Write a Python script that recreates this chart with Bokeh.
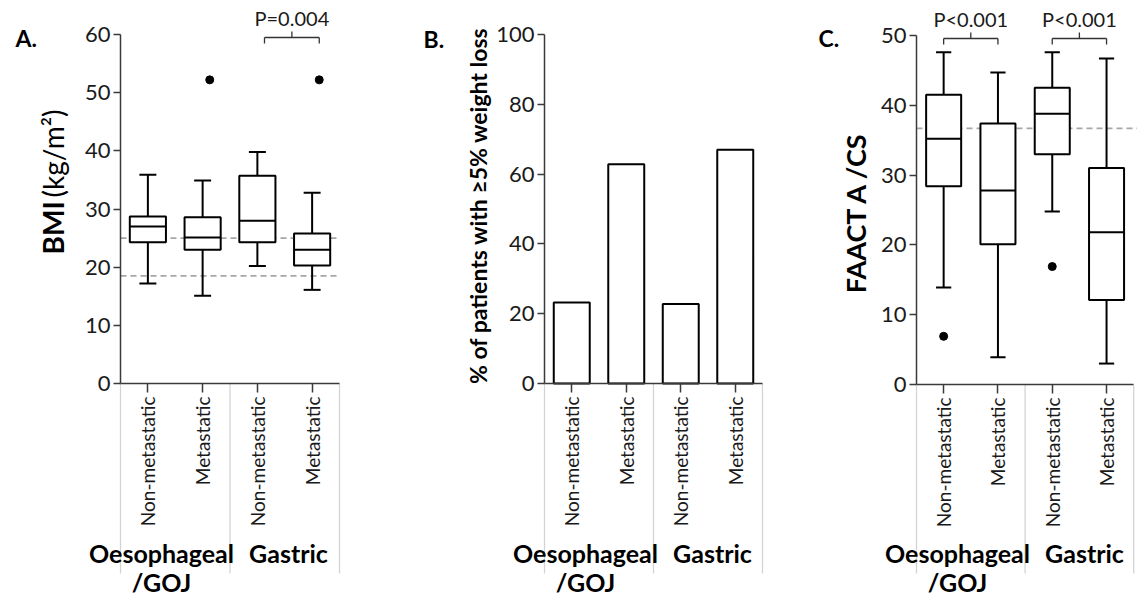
import math
from bokeh.plotting import figure
from bokeh.layouts import row
from bokeh.models import Range1d, LinearAxis, FixedTicker, CustomJSTickFormatter
from bokeh.core.properties import value
from bokeh.embed import file_html
from bokeh.resources import INLINE

# ---------------- data ----------------
categories = ["Non-metastatic", "Metastatic", "Non-metastatic", "Metastatic"]
group_names = ["Oesophageal", "Gastric"]
group_sub = "/GOJ"
positions = [1, 2, 3, 4]

# Panel A: BMI (kg/m2) box plots
bmi_low = [17.2, 15.1, 20.2, 16.1]
bmi_q1 = [24.3, 23.0, 24.3, 20.3]
bmi_med = [27.0, 25.1, 28.0, 23.0]
bmi_q3 = [28.7, 28.6, 35.7, 25.8]
bmi_high = [35.9, 34.9, 39.8, 32.8]
bmi_out_cat = [2, 4]
bmi_out_val = [52.2, 52.2]
bmi_ref = [25.0, 18.5]
bmi_ticks = [0, 10, 20, 30, 40, 50, 60]

# Panel B: % patients with >=5% weight loss
wl_pct = [23.2, 62.8, 22.8, 67.0]
wl_ticks = [0, 20, 40, 60, 80, 100]

# Panel C: FAACT A/CS box plots
fa_low = [13.9, 3.9, 24.8, 3.0]
fa_q1 = [28.4, 20.1, 33.0, 12.1]
fa_med = [35.2, 27.8, 38.8, 21.8]
fa_q3 = [41.5, 37.4, 42.5, 31.0]
fa_high = [47.6, 44.7, 47.6, 46.7]
fa_out_cat = [1, 3]
fa_out_val = [6.9, 16.9]
fa_ref = [36.7]
fa_ticks = [0, 10, 20, 30, 40, 50]

# significance brackets
bmi_sig_pairs = [(3, 4)]
bmi_sig_text = ["P=0.004"]
fa_sig_pairs = [(1, 2), (3, 4)]
fa_sig_text = ["P<0.001", "P<0.001"]

# ---------------- styling ----------------
FONT = "Lato"
H = 598
AXIS_COL = "#3a3a3a"
TICK_FS = 22
CAT_FS = 19
GROUP_FS = 25
P_FS = 20
BASE_K = 0.4   # empirical baseline correction (fraction of font size)


def make_panel(left, width, axis_px, unit_px, y0_px, ytop_px, ymax, ticks):
    sx = unit_px
    sy = (y0_px - ytop_px) / ymax
    ax0 = axis_px - left
    x_start = 0.5 - ax0 / sx
    x_end = 0.5 + (width - ax0) / sx
    y_end = y0_px / sy
    y_start = -(H - y0_px) / sy
    p = figure(width=width, height=H, x_range=Range1d(x_start, x_end),
               y_range=Range1d(y_start, y_end), min_border=0,
               toolbar_location=None, output_backend="svg",
               x_axis_type=None, y_axis_type=None, title=None)
    p.outline_line_color = None
    p.background_fill_color = "white"
    p.border_fill_color = "white"

    def fx(gx):
        return 0.5 + (gx - axis_px) / sx

    def fy(gy):
        return (y0_px - gy) / sy

    def htext(gx, gy, txt, fs, bold=False, align="center", color="black"):
        p.text(x=[fx(gx)], y=[fy(gy - BASE_K * fs)], text=[txt],
               text_font=value(FONT), text_font_size=value(f"{fs}px"),
               text_font_style="bold" if bold else "normal", text_align=align,
               text_baseline="alphabetic", text_color=color)

    def vtext(gx, gy, txt, fs, bold=False, align="center"):
        p.text(x=[fx(gx - BASE_K * fs)], y=[fy(gy)], text=[txt], angle=math.pi / 2,
               text_font=value(FONT), text_font_size=value(f"{fs}px"),
               text_font_style="bold" if bold else "normal", text_align=align,
               text_baseline="alphabetic", text_color="black")

    yax = LinearAxis(fixed_location=0.5, bounds=(0, ymax),
                     ticker=FixedTicker(ticks=ticks))
    yax.axis_line_color = AXIS_COL
    yax.axis_line_width = 1.5
    yax.major_tick_line_color = AXIS_COL
    yax.major_tick_line_width = 1.5
    yax.major_tick_out = 7
    yax.major_tick_in = 0
    yax.minor_tick_line_color = None
    yax.major_label_text_font = FONT
    yax.major_label_text_font_size = f"{TICK_FS}px"
    yax.major_label_text_color = "#1a1a1a"
    yax.major_label_standoff = 3
    p.add_layout(yax, "left")

    xax = LinearAxis(fixed_location=0, bounds=(0.5, 4.5),
                     ticker=FixedTicker(ticks=positions),
                     formatter=CustomJSTickFormatter(
                         args=dict(labels=categories),
                         code="const i = Math.round(tick) - 1; return (i >= 0 && i < labels.length) ? labels[i] : '';"))
    xax.axis_line_color = AXIS_COL
    xax.axis_line_width = 1.5
    xax.major_tick_line_color = AXIS_COL
    xax.major_tick_line_width = 1.5
    xax.major_tick_out = 9
    xax.major_tick_in = 0
    xax.minor_tick_line_color = None
    xax.major_label_orientation = math.pi / 2
    xax.major_label_text_font = FONT
    xax.major_label_text_font_size = f"{CAT_FS}px"
    xax.major_label_text_color = "#1a1a1a"
    xax.major_label_standoff = 4
    p.add_layout(xax, "below")

    # light dividers between groups, below the axis
    p.segment(x0=[0.5, 2.5, 4.5], y0=[0, 0, 0], x1=[0.5, 2.5, 4.5],
              y1=[fy(573)] * 3, line_color="#d4d4d4", line_width=1.3)

    # group labels
    htext(axis_px + 41, 562, group_names[0], GROUP_FS, bold=True)
    htext(axis_px + 168, 562, group_names[1], GROUP_FS, bold=True)
    htext(axis_px + 41, 591, group_sub, GROUP_FS, bold=True)
    return p, fx, fy, sy, htext, vtext


def draw_boxes(p, low, q1, med, q3, high, box_w, cap_w):
    xs = positions
    p.segment(x0=xs, y0=q3, x1=xs, y1=high, line_color="black", line_width=2)
    p.segment(x0=xs, y0=q1, x1=xs, y1=low, line_color="black", line_width=2)
    p.segment(x0=[x - cap_w / 2 for x in xs], y0=high,
              x1=[x + cap_w / 2 for x in xs], y1=high, line_color="black", line_width=2)
    p.segment(x0=[x - cap_w / 2 for x in xs], y0=low,
              x1=[x + cap_w / 2 for x in xs], y1=low, line_color="black", line_width=2)
    p.vbar(x=xs, width=box_w, bottom=q1, top=q3, fill_color="white",
           line_color="black", line_width=2)
    p.segment(x0=[x - box_w / 2 for x in xs], y0=med,
              x1=[x + box_w / 2 for x in xs], y1=med, line_color="black", line_width=2)


def draw_brackets(p, pairs, texts, top_px_y, fy, shift=0.0):
    yb = fy(top_px_y + 3)
    yl = fy(top_px_y + 9)
    yc = fy(top_px_y - 3)
    yt = fy(top_px_y - 9 - BASE_K * P_FS)
    x0s, y0s, x1s, y1s, tx = [], [], [], [], []
    for a, b in pairs:
        a2, b2 = a + shift, b + shift
        mid = (a2 + b2) / 2
        x0s += [a2, a2, b2, mid]
        y0s += [yb, yb, yb, yb]
        x1s += [b2, a2, b2, mid]
        y1s += [yb, yl, yl, yc]
        tx.append(mid)
    p.segment(x0=x0s, y0=y0s, x1=x1s, y1=y1s, line_color="#333333", line_width=1.3)
    p.text(x=tx, y=[yt] * len(tx), text=texts, text_font=value(FONT),
           text_font_size=value(f"{P_FS}px"), text_align="center",
           text_baseline="alphabetic", text_color="#1a1a1a")


# ---------------- Panel A ----------------
pA, fxA, fyA, syA, htA, vtA = make_panel(0, 400, 120, 54.75, 383, 34, 60, bmi_ticks)
pA.segment(x0=[0.5] * len(bmi_ref), y0=bmi_ref, x1=[4.5] * len(bmi_ref), y1=bmi_ref,
           line_color="#a6a6a6", line_width=1.6, line_dash="6 4")
draw_boxes(pA, bmi_low, bmi_q1, bmi_med, bmi_q3, bmi_high, 0.66, 0.31)
pA.scatter(x=[c + 0.13 for c in bmi_out_cat], y=bmi_out_val, size=8,
           fill_color="black", line_color="black")
draw_brackets(pA, bmi_sig_pairs, bmi_sig_text, 34, fyA, shift=0.13)
vtA(64, 254, "BMI", 28, bold=True, align="left")
vtA(64, 197, "(kg/m²)", 28, align="left")
htA(15, 47, "A.", 23, bold=True, align="left")

# ---------------- Panel B ----------------
pB, fxB, fyB, syB, htB, vtB = make_panel(400, 390, 544, 54.5, 383, 34, 100, wl_ticks)
pB.vbar(x=positions, width=0.66, bottom=0, top=wl_pct, fill_color="white",
        line_color="black", line_width=2)
vtB(487, 205, "% of patients with ≥5% weight loss", 23, bold=True)
htB(423, 48, "B.", 23, bold=True, align="left")

# ---------------- Panel C ----------------
pC, fxC, fyC, syC, htC, vtC = make_panel(790, 347, 916, 54.3, 384, 35, 50, fa_ticks)
pC.segment(x0=[0.5] * len(fa_ref), y0=fa_ref, x1=[4.7] * len(fa_ref), y1=fa_ref,
           line_color="#a6a6a6", line_width=1.6, line_dash="6 4")
draw_boxes(pC, fa_low, fa_q1, fa_med, fa_q3, fa_high, 0.645, 0.28)
pC.scatter(x=fa_out_cat, y=fa_out_val, size=8, fill_color="black", line_color="black")
draw_brackets(pC, fa_sig_pairs, fa_sig_text, 35, fyC)
vtC(866, 212, "FAACT A /CS", 27, bold=True)
htC(818, 47, "C.", 23, bold=True, align="left")

layout = row(pA, pB, pC)
open("out.html", "w").write(file_html(layout, INLINE))
